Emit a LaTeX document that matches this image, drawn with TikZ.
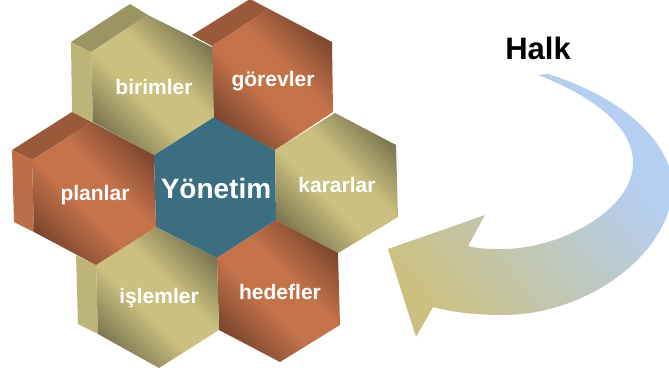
\documentclass[tikz,border=0pt]{standalone}
\usepackage{fontspec}
\setmainfont{Liberation Sans}
\definecolor{tanL}{HTML}{CBC07F}
\definecolor{tanD}{HTML}{7A7550}
\definecolor{tanS}{HTML}{BDB47A}
\definecolor{tanT}{HTML}{9B9463}
\definecolor{oraL}{HTML}{C4724A}
\definecolor{oraD}{HTML}{7A462E}
\definecolor{oraS}{HTML}{BC6E48}
\definecolor{oraT}{HTML}{9A5939}
\definecolor{teal}{HTML}{3A6E80}
\definecolor{arrB}{HTML}{B5CFF2}
\definecolor{arrT}{HTML}{CBC07F}
\pgfdeclarehorizontalshading{tanhex}{100bp}{color(0bp)=(tanD); color(24bp)=(tanD); color(43bp)=(tanL); color(57bp)=(tanL); color(76bp)=(tanD); color(100bp)=(tanD)}
\pgfdeclarehorizontalshading{orahex}{100bp}{color(0bp)=(oraD); color(24bp)=(oraD); color(43bp)=(oraL); color(57bp)=(oraL); color(76bp)=(oraD); color(100bp)=(oraD)}
\pgfdeclarehorizontalshading{arrowshade}{100bp}{color(0bp)=(arrT); color(24bp)=(arrT); color(68bp)=(arrB); color(100bp)=(arrB)}
\tikzset{
  tanface/.style={shading=tanhex,shading angle=45},
  oraface/.style={shading=orahex,shading angle=45},
  hexlabel/.style={text=white,font=\fontsize{21}{21}\bfseries\selectfont,inner sep=0pt},
}
\begin{document}
\begin{tikzpicture}[x=1pt,y=-1pt]
\useasboundingbox (0,0) rectangle (669,375);
% arrow
\path[shading=arrowshade,shading angle=38]
  (538,75) -- (548,74) .. controls (600,90) and (662,125) .. (673,180)
  .. controls (676,250) and (590,315) .. (503,315)
  .. controls (480,315) and (455,313) .. (433,307)
  -- (416,337) -- (388,249) -- (485,215) -- (468,246)
  .. controls (480,249) and (490,249) .. (503,249)
  .. controls (560,249) and (633,210) .. (633,163)
  .. controls (633,125) and (590,95) .. (538,75) -- cycle;
% teal
\fill[teal] (214,117) -- (275,150) -- (276,220) -- (217,258) -- (156,227) -- (154,155) -- cycle;
% gorevler
\fill[oraT] (250,-1) -- (192,35) -- (212,46) -- (269,9) -- cycle;
\path[oraface] (269,9) -- (332,42) -- (333,112) -- (275,150) -- (213,117) -- (212,46) -- cycle;
% birimler
\fill[tanT] (130,4) -- (71,42) -- (91,52) -- (148,15) -- cycle;
\fill[tanS] (71,42) -- (91,52) -- (93,122) -- (72,112) -- cycle;
\path[tanface] (148,15) -- (212,47) -- (214,117) -- (154,155) -- (93,122) -- (91,52) -- cycle;
% kararlar
\path[tanface] (335,113) -- (396,145) -- (398,217) -- (338,253) -- (276,220) -- (275,150) -- cycle;
% hedefler
\path[oraface] (276,220) -- (338,253) -- (340,325) -- (280,362) -- (219,330) -- (217,258) -- cycle;
% islemler
\fill[tanS] (76,255) -- (96,265) -- (98,334) -- (78,324) -- cycle;
\path[tanface] (156,227) -- (217,258) -- (219,330) -- (159,368) -- (98,334) -- (96,265) -- cycle;
% planlar
\fill[oraT] (12,150) -- (72,112) -- (92,122) -- (32,160) -- cycle;
\fill[oraS] (12,150) -- (32,160) -- (34,232) -- (14,222) -- cycle;
\path[oraface] (92,122) -- (154,155) -- (156,227) -- (96,265) -- (34,232) -- (32,160) -- cycle;
% labels
\node[hexlabel] (birimler) at (154,87) {birimler};
\node[hexlabel] (gorevler) at (273,81) {görevler};
\node[hexlabel] (kararlar) at (337,185) {kararlar};
\node[hexlabel] (planlar) at (95,195) {planlar};
\node[hexlabel] (hedefler) at (280,292) {hedefler};
\node[hexlabel] (islemler) at (159,298) {işlemler};
\node[hexlabel,font=\fontsize{28}{28}\bfseries\selectfont] (yonetim) at (216,188) {Yönetim};
\node[inner sep=0pt,font=\fontsize{31}{31}\bfseries\selectfont] (halk) at (538,48) {Halk};
\end{tikzpicture}
\end{document}
